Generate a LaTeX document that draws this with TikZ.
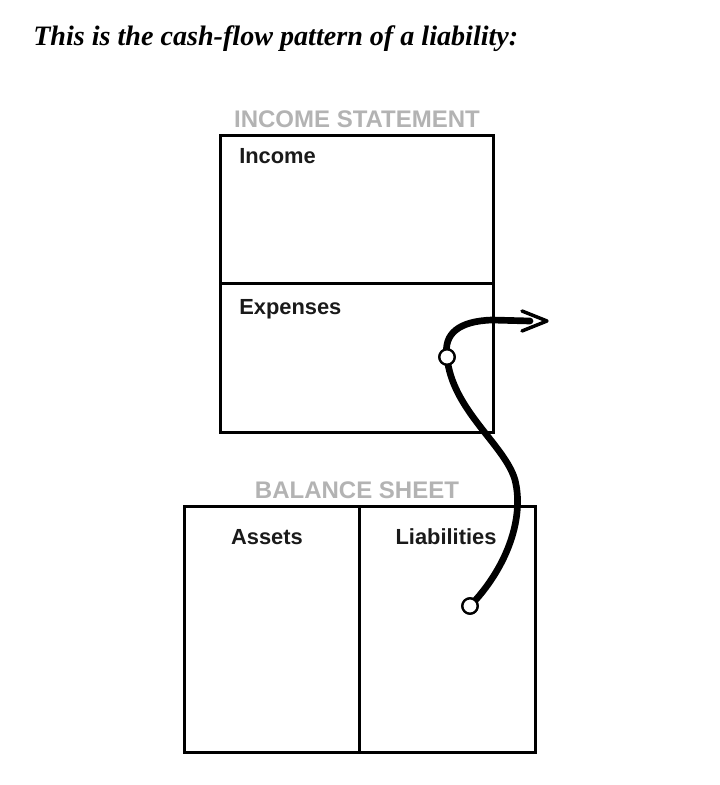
\documentclass[tikz,border=0pt]{standalone}
\usepackage{fontspec}
\setmainfont{Liberation Serif}
\setsansfont{Liberation Sans}
\usetikzlibrary{arrows.meta}
\definecolor{headgray}{HTML}{B3B3B3}
\definecolor{ink}{HTML}{1A1A1A}
\tikzset{
  box/.style={draw=black, line width=2.25pt},
  head/.style={font=\sffamily\bfseries\fontsize{18}{20}\selectfont, text=headgray, anchor=base, inner sep=0pt},
  lbl/.style={font=\sffamily\bfseries\fontsize{16.4}{18}\selectfont, text=ink, inner sep=0pt},
  circ/.style={circle, draw=black, fill=white, line width=1.7pt, minimum size=11.5pt, inner sep=0pt},
  flow/.style={line width=5pt, black, line cap=round},
}
\begin{document}
\begin{tikzpicture}[x=0.75pt, y=-0.75pt]
\useasboundingbox (0,0) rectangle (720,785);
% title
\node[anchor=base west, inner sep=0pt] (title) at (33,45)
  {\resizebox{363.75pt}{!}{\bfseries\itshape This is the cash-flow pattern of a liability:}};
% income statement
\node[head] (ishead) at (357,127) {INCOME STATEMENT};
\draw[box] (220,135) rectangle (493,432);
\draw[box] (220,283) -- (493,283);
\node[lbl, anchor=base west] (income) at (239,163) {Income};
\node[lbl, anchor=base west] (expenses) at (239,314) {Expenses};
% balance sheet
\node[head] (bshead) at (357,498) {BALANCE SHEET};
\draw[box] (184,506) rectangle (535,752);
\draw[box] (359,506) -- (359,752);
\node[lbl, anchor=base] (assets) at (267,544) {Assets};
\node[lbl, anchor=base] (liab) at (446,544) {Liabilities};
% flow
\coordinate (tip) at (547,321);
\node[circ] (start) at (470,606) {};
\node[circ] (mid) at (447,357) {};
\draw[flow] (start.center) .. controls (505,570) and (525,520) .. (515,480)
  .. controls (505,445) and (452,410) .. (mid.center)
  .. controls (443,333) and (460,321) .. (492,320) -- (530,321);
\draw[line width=2.6pt, line cap=round, line join=round] (522,311) -- (tip) -- (522,331);
\node[circ] at (start) {};
\node[circ] at (mid) {};
\end{tikzpicture}
\end{document}
